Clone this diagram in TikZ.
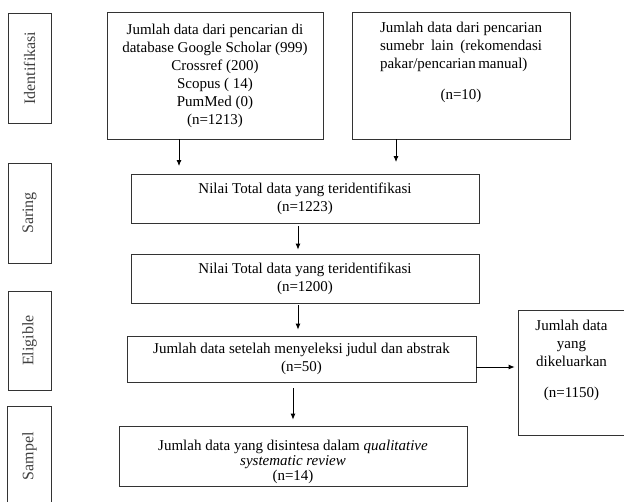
\documentclass[tikz,border=0pt]{standalone}
\usepackage{fontspec}
\setmainfont{Liberation Serif}
\usetikzlibrary{arrows.meta}

\begin{document}
\begin{tikzpicture}[x=1pt,y=1pt,yscale=-1,
  font=\fontsize{15}{18}\selectfont,
  box/.style={draw=black!80, line width=0.8pt, inner sep=0pt, align=center},
  sidebox/.style={draw=black!80, line width=0.8pt, inner sep=0pt, minimum width=43pt, text=black!75, font=\fontsize{16}{18}\selectfont},
  arr/.style={-{Latex[length=6pt,width=5pt]}, line width=0.8pt}]
\useasboundingbox (0,0) rectangle (624,501);

%Side boxes
\node [sidebox, minimum height=110pt] (idf) at (29.5,68) {\rotatebox{90}{Identifikasi}};
\node [sidebox, minimum height=100pt] (sar) at (29.5,213) {\rotatebox{90}{Saring}};
\node [sidebox, minimum height=99pt] (elg) at (29.5,340.5) {\rotatebox{90}{Eligible}};
\node [sidebox, draw=none, minimum height=98pt] (smp) at (29.5,456) {\rotatebox{90}{Sampel}};
\draw [draw=black!80, line width=0.8pt] (smp.south west) -- (smp.north west) -- (smp.north east) -- (smp.south east);

%Sources
\node [box, minimum width=216pt, minimum height=127pt] (src1) at (215,75.5) {Jumlah data dari pencarian di\\ database Google Scholar (999)\\ Crossref (200)\\ Scopus ( 14)\\ PumMed (0)\\ (n=1213)};
\node [box, minimum width=218pt, minimum height=127pt] (src2) at (461,75.5) {\makebox[162pt][s]{Jumlah data dari pencarian}\\ \makebox[162pt][s]{sumebr lain (rekomendasi}\\ \makebox[162pt][l]{\makebox[147pt][s]{pakar/pencarian manual)}}\\[13pt] (n=10)\\[12pt] \mbox{}};

%Totals
\node [box, minimum width=348pt, minimum height=49pt] (tot1) at (305,198.5) {Nilai Total data yang teridentifikasi\\ (n=1223)};
\node [box, minimum width=348pt, minimum height=49pt] (tot2) at (305,278.5) {Nilai Total data yang teridentifikasi\\ (n=1200)};
\node [box, minimum width=349pt, minimum height=46pt] (sel) at (301.5,359) {Jumlah data setelah menyeleksi judul dan abstrak\\ (n=50)};
\node [box, minimum width=348pt, minimum height=60pt, font=\fontsize{15}{15}\selectfont] (syn) at (293,456) {\mbox{}\\[8pt] Jumlah data yang disintesa dalam \textit{qualitative}\\ \textit{systematic review}\\ (n=14)};

%Excluded
\node [box, draw=none, minimum width=105pt, minimum height=124pt] (out) at (571.5,373) {Jumlah data\\ yang\\ dikeluarkan\\[13pt] (n=1150)\\[11pt] \mbox{}};
\draw [draw=black!80, line width=0.8pt] (out.north east) -- (out.north west) -- (out.south west) -- (out.south east);

%Arrows
\coordinate (a1) at (179,166);
\coordinate (a2) at (396,162);
\coordinate (m1) at (298,0);
\coordinate (m2) at (293,0);
\coordinate (m3) at (0,367);
\draw [arr] (src1.south -| a1) -- (a1);
\draw [arr] (src2.south -| a2) -- (a2);
\draw [arr, shorten <=3pt, shorten >=4pt] (tot1.south -| m1) -- (tot2.north -| m1);
\draw [arr, shorten <=2pt, shorten >=6pt] (tot2.south -| m1) -- (sel.north -| m1);
\draw [arr, shorten <=6pt, shorten >=6pt] (sel.south -| m2) -- (syn.north -| m2);
\draw [arr, shorten >=4pt] (sel.east |- m3) -- (out.west |- m3);
\end{tikzpicture}
\end{document}
